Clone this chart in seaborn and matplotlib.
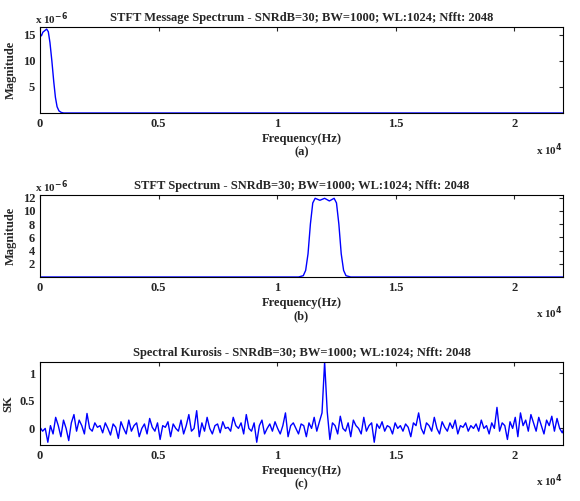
import numpy as np
import matplotlib
matplotlib.use("Agg")
import matplotlib.pyplot as plt
from matplotlib.ticker import FormatStrFormatter
import seaborn as sns

sns.set_style("white")
plt.rcParams['font.family'] = ['Liberation Serif', 'DejaVu Serif']
plt.rcParams['font.weight'] = 'bold'

fs_half = 22050

# (a) message spectrum, x1e-6
msg_freq = [0, 60, 120, 200, 280, 350, 420, 500, 580, 650, 720, 800, 900, 1000, 1200, 22050]
msg_mag = [15.2, 14.8, 15.5, 15.8, 16.1, 15.6, 13.5, 10.0, 6.0, 3.0, 1.2, 0.4, 0.1, 0.0, 0.0, 0.0]

# (b) modulated spectrum, x1e-6
sp_freq = [0, 10900, 11100, 11200, 11300, 11400, 11500, 11600, 11800, 12000, 12200, 12400,
           12500, 12600, 12700, 12800, 12900, 13100, 22050]
sp_mag = [0.0, 0.0, 0.2, 1.0, 3.5, 8.0, 11.2, 11.9, 11.6, 11.9, 11.5, 11.9, 11.2, 8.0,
          3.5, 1.0, 0.2, 0.0, 0.0]

# (c) spectral kurtosis
sk_vals = [0.02, -0.05, 0.0, -0.25, 0.05, -0.1, 0.2, 0.05, -0.15, 0.15, 0.0, -0.22, 0.1, 0.25,
           -0.05, 0.15, 0.05, -0.1, 0.27, 0.0, -0.05, 0.1, 0.02, 0.05, -0.08, 0.1, 0.0, -0.12,
           0.08, 0.02, -0.18, 0.12, 0.0, -0.1, 0.15, -0.05, 0.05, 0.1, -0.15, 0.0, 0.08, -0.1,
           0.18, 0.02, -0.05, 0.1, -0.2, 0.05, 0.02, 0.12, -0.15, 0.08, 0.0, -0.05, 0.15, -0.1,
           0.05, 0.25, -0.05, 0.0, 0.32, -0.15, 0.1, -0.05, 0.2, 0.0, -0.1, 0.05, 0.08, -0.08,
           0.12, 0.0, 0.02, -0.05, 0.2, 0.05, 0.0, 0.1, -0.1, 0.25, 0.0, -0.05, 0.1, -0.25,
           0.05, 0.15, -0.1, 0.0, 0.08, -0.05, 0.12, 0.0, -0.1, 0.05, 0.28, -0.15, 0.05, 0.1,
           0.0, -0.1, 0.08, 0.05, -0.15, 0.1, 0.0, 0.2, -0.05, 0.12, 0.28, 1.2, 0.3, -0.2,
           0.1, 0.05, -0.1, 0.22, 0.0, -0.05, 0.1, -0.15, 0.15, 0.05, 0.0, -0.1, 0.2, -0.05,
           0.05, 0.1, -0.25, 0.08, 0.0, 0.12, -0.05, 0.05, 0.02, -0.1, 0.1, 0.0, 0.05, -0.05,
           0.08, 0.02, -0.15, 0.1, 0.05, 0.28, 0.0, -0.1, 0.1, 0.05, -0.05, 0.2, 0.0, -0.1,
           0.12, 0.02, -0.05, 0.1, 0.0, 0.15, -0.1, 0.05, 0.02, 0.1, -0.05, 0.05, 0.0, 0.08,
           -0.05, 0.15, 0.0, 0.05, -0.1, 0.1, 0.0, 0.38, -0.05, 0.1, 0.05, -0.2, 0.12, 0.0,
           0.2, -0.15, 0.28, 0.05, 0.15, -0.05, 0.25, 0.1, -0.05, 0.2, 0.05, -0.1, 0.15,
           0.05, 0.22, -0.05, 0.18, 0.0, -0.08, 0.05, 0.3]
spike_freq = 12000
sk_step = spike_freq / sk_vals.index(max(sk_vals))
sk_freq = np.arange(len(sk_vals)) * sk_step

sub = "SNRdB=30; BW=1000; WL:1024; Nfft: 2048"
panels = [
    (msg_freq, msg_mag, "STFT Message Spectrum - " + sub, "Magnitude", (0, 16.5), [5, 10, 15], "(a)", True),
    (sp_freq, sp_mag, "STFT Spectrum - " + sub, "Magnitude", (0, 12.4), [2, 4, 6, 8, 10, 12], "(b)", True),
    (sk_freq, sk_vals, "Spectral Kurosis - " + sub, "SK", (-0.3, 1.2), [0, 0.5, 1], "(c)", False),
]
tops = [27, 195, 362]
bottoms = [113, 277, 445]

fig = plt.figure(figsize=(5.8, 5.01), dpi=100)
for (x, y, title, ylab, ylim, yt, lab, sci), t, b in zip(panels, tops, bottoms):
    ax = fig.add_axes([40 / 580, 1 - b / 501, (563 - 40) / 580, (b - t) / 501])
    sns.lineplot(x=x, y=y, ax=ax, color="blue", linewidth=1.0)
    ax.set_xlim(0, fs_half)
    ax.set_ylim(*ylim)
    ax.set_yticks(yt)
    ax.yaxis.set_major_formatter(FormatStrFormatter("%g"))
    ax.set_xticks([0, 5000, 10000, 15000, 20000])
    ax.set_xticklabels(["0", "0.5", "1", "1.5", "2"])
    ax.tick_params(direction="in", labelsize=9, length=3, top=True, right=True)
    for s in ax.spines.values():
        s.set_linewidth(0.8)
        s.set_color("black")
    ax.set_title(title, fontsize=9, fontweight="bold", pad=4)
    ax.set_ylabel(ylab, fontsize=9, fontweight="bold")
    ax.set_xlabel("Frequency(Hz)\n" + lab, fontsize=9, fontweight="bold", labelpad=2)
    ax.text(1.0, -0.33, r"x 10$^4$", transform=ax.transAxes, fontsize=8, ha="right", va="top")
    if sci:
        ax.text(-0.01, 1.0, r"x 10$^{-6}$", transform=ax.transAxes, fontsize=8, ha="left", va="bottom")

fig.savefig("out.png", dpi=100)
